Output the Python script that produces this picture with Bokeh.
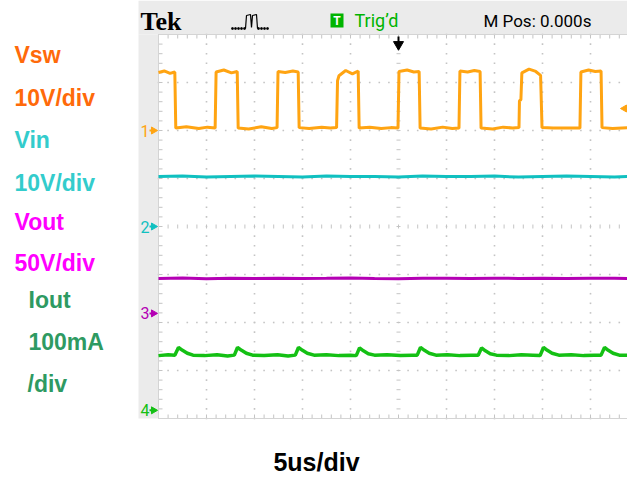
import numpy as np
from bokeh.plotting import figure
from bokeh.models import Range1d
from bokeh.core.properties import value
from bokeh.embed import file_html
from bokeh.resources import INLINE

# ---------------- data ----------------
# time in microseconds (5 us/div, trigger at 0)
vsw_t = [-25.0, -24.4, -23.8, -23.3, -23.2, -22.1, -20.8, -19.9, -19.1, -19.0, -18.2, -17.4, -16.8,
         -16.7, -15.6, -14.3, -13.2, -12.65, -12.55, -11.8, -11.0, -10.45, -10.35, -9.3, -8.0, -7.1,
         -6.45, -6.35, -6.2, -5.5, -4.8, -4.2, -4.1, -3.0, -1.8, -0.8, -0.05, 0.05, 0.9, 1.6, 2.15,
         2.25, 3.4, 4.6, 5.6, 6.3, 6.4, 7.2, 7.9, 8.5, 8.6, 9.8, 10.9, 11.9, 12.55, 12.6, 12.75,
         12.85, 13.6, 14.3, 14.8, 14.95, 16.1, 17.3, 18.3, 18.9, 19.0, 19.8, 20.5, 21.1, 21.2, 22.3, 23.9]
vsw_v = [12.1, 12.4, 11.9, 12.2, 0.5, 0.8, 0.4, 0.7, 0.5, 12.2, 12.6, 12.0, 12.3,
         0.5, 0.3, 0.8, 0.4, 0.6, 12.3, 12.1, 12.4, 12.2, 0.6, 0.4, 0.7, 0.5,
         0.6, 10.4, 11.4, 12.5, 11.8, 12.4, 0.5, 0.7, 0.4, 0.6, 0.5, 12.3, 12.6, 12.2, 12.3,
         0.5, 0.3, 0.7, 0.4, 0.5, 12.4, 12.2, 12.5, 12.3, 0.5, 0.3, 0.7, 0.5, 0.6, 6.2, 6.4,
         12.0, 12.8, 12.3, 11.5, 0.6, 0.5, 0.5, 0.5, 0.5, 12.2, 12.6, 12.3, 12.4, 0.6, 0.4, 0.6]

vin_t = [-25.0, -22.5, -20.0, -17.5, -15.0, -12.5, -10.0, -7.5, -5.0, -2.5, 0.0, 2.5, 5.0, 7.5,
         10.0, 12.5, 15.0, 17.5, 20.0, 22.5, 23.9]
vin_v = [10.4, 10.5, 10.3, 10.4, 10.5, 10.4, 10.3, 10.5, 10.4, 10.4, 10.3, 10.5, 10.4, 10.4,
         10.5, 10.3, 10.4, 10.5, 10.4, 10.3, 10.4]

vout_t = [-25.0, -22.5, -20.0, -17.5, -15.0, -12.5, -10.0, -7.5, -5.0, -2.5, 0.0, 2.5, 5.0, 7.5,
          10.0, 12.5, 15.0, 17.5, 20.0, 22.5, 23.9]
vout_v = [36.4, 36.8, 36.2, 36.6, 36.4, 36.7, 36.3, 36.5, 36.8, 36.4, 36.2, 36.6, 36.5, 36.3,
          36.7, 36.4, 36.6, 36.3, 36.5, 36.7, 36.4]

iout_t = [-25.0, -24.0, -23.3, -22.92, -22.5, -22.0, -21.4, -20.2, -18.9, -17.8, -17.1, -16.77,
          -16.35, -15.85, -15.2, -14.0, -12.6, -11.5, -10.75, -10.42, -10.0, -9.5, -8.8, -7.5,
          -6.2, -5.0, -4.4, -4.06, -3.65, -3.15, -2.5, -1.2, 0.2, 1.4, 1.95, 2.29, 2.7, 3.2, 3.9,
          5.1, 6.4, 7.6, 8.3, 8.65, 9.05, 9.55, 10.2, 11.5, 12.8, 14.0, 14.75, 15.1, 15.5, 16.0,
          16.7, 18.0, 19.3, 20.4, 21.1, 21.46, 21.85, 22.35, 23.0, 23.9]
iout_v = [114, 116, 115, 131, 125, 119, 115, 114, 116, 113, 115, 131,
          125, 119, 115, 114, 116, 113, 115, 131, 125, 119, 115, 116,
          114, 115, 114, 130, 124, 118, 115, 116, 114, 115, 115, 131, 125, 119, 115,
          116, 114, 115, 115, 130, 124, 118, 115, 114, 116, 115, 114, 131, 125, 119,
          115, 116, 114, 115, 115, 131, 125, 119, 115, 115]

ch_names = ["Vsw", "Vin", "Vout", "Iout"]
ch_scale = [10.0, 10.0, 50.0, 100.0]          # units per division
ch_offset = [2.0, 0.0, -1.81, -3.83]          # ground marker position (divisions)
ch_trace_color = ["#ffa412", "#10c0c0", "#b400b4", "#14c014"]
ch_trace_width = [3, 3, 3, 3.5]
label_texts = ["Vsw", "10V/div", "Vin", "10V/div", "Vout", "50V/div", "Iout", "100mA", "/div"]
label_colors = ["#ff6a0a", "#ff6a0a", "#33cccc", "#33cccc", "#ff00ff", "#ff00ff",
                "#2e9a62", "#2e9a62", "#2e9a62"]
time_label = "5us/div"

# ---------------- geometry helpers (pixel layout of the screen shot) ----------------
W, H = 627, 478
DIV = 48.0            # pixels per division
GX0, GY0 = 158, 34    # top-left of the graticule
US_PER_DIV = 5.0


def px_x(x):
    return -25.0 + (x - GX0) / DIV * US_PER_DIV


def px_y(y):
    return 4.0 - (y - GY0) / DIV


p = figure(width=W, height=H, x_range=Range1d(px_x(0), px_x(W)),
           y_range=Range1d(px_y(H), px_y(0)), x_axis_location=None, y_axis_location=None,
           toolbar_location=None, output_backend="svg", min_border=0,
           outline_line_color=None, background_fill_color="white", border_fill_color="white")
p.grid.visible = False

# grey bezel
bez = "#ebebeb"
p.quad(left=px_x(138), right=px_x(W), top=px_y(0), bottom=px_y(GY0), fill_color=bez, line_color=None)
p.quad(left=px_x(138), right=px_x(GX0), top=px_y(GY0), bottom=px_y(418), fill_color=bez, line_color=None)

# graticule
gcol = "#c4c4c4"
x_right = px_x(W)
vx = [-20, -15, -10, -5, 5, 10, 15, 20]
ys = np.arange(-4.0, 4.001, 0.2)
dx, dy = [], []
for x in vx:
    dx += [x] * len(ys)
    dy += list(ys)
xs_fine = np.arange(-25.0, x_right, 1.0)
for y in [-3, -2, -1, 1, 2, 3]:
    dx += list(xs_fine)
    dy += [y] * len(xs_fine)
p.scatter(dx, dy, marker="square", size=1.6, color=gcol, line_color=None)

hx = 4 / DIV * US_PER_DIV / 2
vy = 4 / DIV / 2
# centre vertical line ticks
p.segment(x0=[-hx] * len(ys), x1=[hx] * len(ys), y0=list(ys), y1=list(ys), line_color=gcol, line_width=1)
# centre horizontal line ticks
p.segment(x0=list(xs_fine), x1=list(xs_fine), y0=[-vy] * len(xs_fine), y1=[vy] * len(xs_fine),
          line_color=gcol, line_width=1)
# edge ticks
p.segment(x0=[-25.0] * len(ys), x1=[-25.0 + 2 * hx] * len(ys), y0=list(ys), y1=list(ys),
          line_color=gcol, line_width=1)
p.segment(x0=list(xs_fine), x1=list(xs_fine), y0=[4.0] * len(xs_fine), y1=[4.0 - 2 * vy] * len(xs_fine),
          line_color=gcol, line_width=1)
p.segment(x0=list(xs_fine), x1=list(xs_fine), y0=[-4.0] * len(xs_fine), y1=[-4.0 + 2 * vy] * len(xs_fine),
          line_color=gcol, line_width=1)
# edges
p.line([-25.0, -25.0], [-4.0, 4.0], line_color="#d4d4d4", line_width=1)
p.line([-25.0, x_right], [4.0, 4.0], line_color="#d4d4d4", line_width=1)
p.line([-25.0, x_right], [-4.0, -4.0], line_color="#d4d4d4", line_width=1)

# traces
series = [(vsw_t, vsw_v), (vin_t, vin_v), (vout_t, vout_v), (iout_t, iout_v)]
for i, (t, v) in enumerate(series):
    yd = [ch_offset[i] + val / ch_scale[i] for val in v]
    p.line(t, yd, line_color=ch_trace_color[i], line_width=ch_trace_width[i])

# channel ground markers
for i in range(4):
    p.text(x=[px_x(140)], y=[ch_offset[i]], text=[str(i + 1)], text_color=ch_trace_color[i],
           text_font=value("Roboto"), text_font_size="16px", text_baseline="middle", text_align="left")
    p.scatter(x=[px_x(153)], y=[ch_offset[i]], marker="triangle", size=7, angle=-np.pi / 2,
              color=ch_trace_color[i])
    p.segment(x0=[px_x(149)], x1=[px_x(153)], y0=[ch_offset[i]], y1=[ch_offset[i]],
              line_color=ch_trace_color[i], line_width=2)

# trigger position arrow and trigger level marker
p.scatter(x=[0.0], y=[px_y(44)], marker="inverted_triangle", size=10, color="black")
p.segment(x0=[0.0], x1=[0.0], y0=[px_y(36)], y1=[px_y(42)], line_color="black", line_width=2)
p.scatter(x=[px_x(624)], y=[px_y(108)], marker="triangle", size=7, angle=np.pi / 2,
          color=ch_trace_color[0])

# header texts (y = vertical centre of capitals)
p.text(x=[px_x(140)], y=[px_y(21)], text=["Tek"], text_font=value("Liberation Serif"),
       text_font_style="bold", text_font_size="26px", text_baseline="middle", text_color="black")
# acquisition icon
icon_px_x = [245, 246, 250, 251, 252, 256, 257]
icon_px_y = [28, 15, 14, 27, 15, 14, 28]
p.line([px_x(v) for v in icon_px_x], [px_y(v) for v in icon_px_y], line_color="black", line_width=1.2)
dots_px = [232, 235, 238, 241, 244, 258, 261, 264, 267]
p.scatter([px_x(v) for v in dots_px], [px_y(28)] * len(dots_px), marker="square", size=1.5, color="black")
p.quad(left=px_x(330), right=px_x(343), top=px_y(13), bottom=px_y(27), fill_color="#00b400", line_color=None)
p.text(x=[px_x(336.5)], y=[px_y(20)], text=["T"], text_color="white", text_font=value("Roboto"),
       text_font_style="bold", text_font_size="12px", text_align="center", text_baseline="middle")
p.text(x=[px_x(354)], y=[px_y(20)], text=["Trig\u2019d"], text_color="#00b400", text_font=value("Roboto"),
       text_font_size="18px", text_baseline="middle")
p.text(x=[px_x(483)], y=[px_y(20)], text=["M Pos: 0.000s"], text_color="black", text_font=value("Roboto"),
       text_font_size="17px", text_baseline="middle")

# left labels (y = vertical centre of capitals)
lab_x = [14, 14, 14, 14, 14, 14, 28, 28, 27]
lab_mid = [54, 97, 139, 182, 221, 262, 299, 341, 383]
p.text(x=[px_x(v) for v in lab_x], y=[px_y(v) for v in lab_mid], text=label_texts,
       text_color=label_colors, text_font=value("Liberation Sans"), text_font_style="bold",
       text_font_size="23px", text_baseline="middle", text_align="left")

# time base label
p.text(x=[px_x(316)], y=[px_y(461)], text=[time_label], text_color="black",
       text_font=value("Liberation Sans"), text_font_style="bold", text_font_size="25px",
       text_baseline="middle", text_align="center")

open("out.html", "w").write(file_html(p, INLINE))
